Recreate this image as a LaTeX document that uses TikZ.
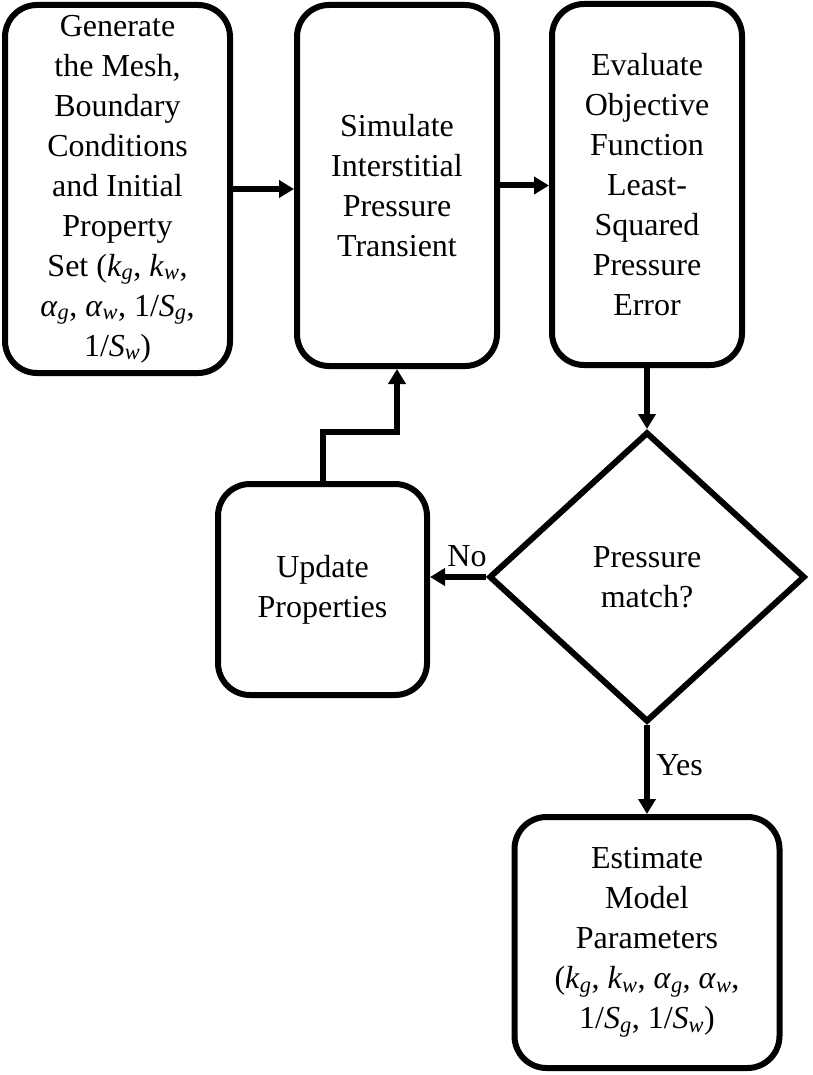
\documentclass[tikz,border=0pt]{standalone}
\usepackage{fontspec}
\setmainfont{Liberation Serif}
\usetikzlibrary{shapes.geometric,arrows.meta}
\newcommand{\pv}[2]{\textit{#1}\textsubscript{\textit{#2}}}

\begin{document}
\begin{tikzpicture}[x=1pt, y=-1pt,
    box/.style={draw, rectangle, rounded corners=32pt, line width=6pt, align=center, inner sep=0pt, font=\fontsize{32}{40}\selectfont},
    decision/.style={draw, diamond, line width=6pt, align=center, inner sep=0pt, minimum width=316pt, minimum height=290pt, font=\fontsize{32}{40}\selectfont},
    link/.style={line width=6pt, -{Triangle[length=15pt, width=17pt]}},
    tag/.style={font=\fontsize{32}{40}\selectfont}]
    \useasboundingbox (0,0) rectangle (812,1075);

    % Top row
    \node[box, minimum width=225pt, minimum height=368pt] (gen) at (117.5,189) {Generate\\the Mesh,\\Boundary\\Conditions\\and Initial\\Property\\Set (\pv{k}{g}, \pv{k}{w},\\\pv{α}{g}, \pv{α}{w}, 1/\pv{S}{g},\\1/\pv{S}{w})};
    \node[box, minimum width=200pt, minimum height=361pt] (sim) at (397,185.5) {Simulate\\Interstitial\\Pressure\\Transient};
    \node[box, minimum width=190pt, minimum height=361pt] (eval) at (647,184.5) {Evaluate\\Objective\\Function\\Least-\\Squared\\Pressure\\Error};

    % Middle row
    \node[box, minimum width=209pt, minimum height=211pt] (upd) at (322.5,589.5) {Update\\Properties};
    \node[decision] (match) at (647,577) {Pressure\\match?};

    % Bottom
    \node[box, minimum width=265pt, minimum height=251pt] (est) at (647,942.5) {Estimate\\Model\\Parameters\\(\pv{k}{g}, \pv{k}{w}, \pv{α}{g}, \pv{α}{w},\\1/\pv{S}{g}, 1/\pv{S}{w})};

    % Connectors
    \draw[link] (gen.east) -- (gen.east -| sim.west);
    \draw[link] (sim.east) -- (sim.east -| eval.west);
    \draw[link] (eval.south) -- (match.north);
    \draw[link] (match.west) -- (match.west -| upd.east) node[tag, above=4pt, pos=0.34] {No};
    \draw[link] (match.south) -- (est.north) node[tag, right=3pt, pos=0.45] {Yes};
    \draw[link] (upd.north) -- ++(0,-49) -| (sim.south);
\end{tikzpicture}
\end{document}
